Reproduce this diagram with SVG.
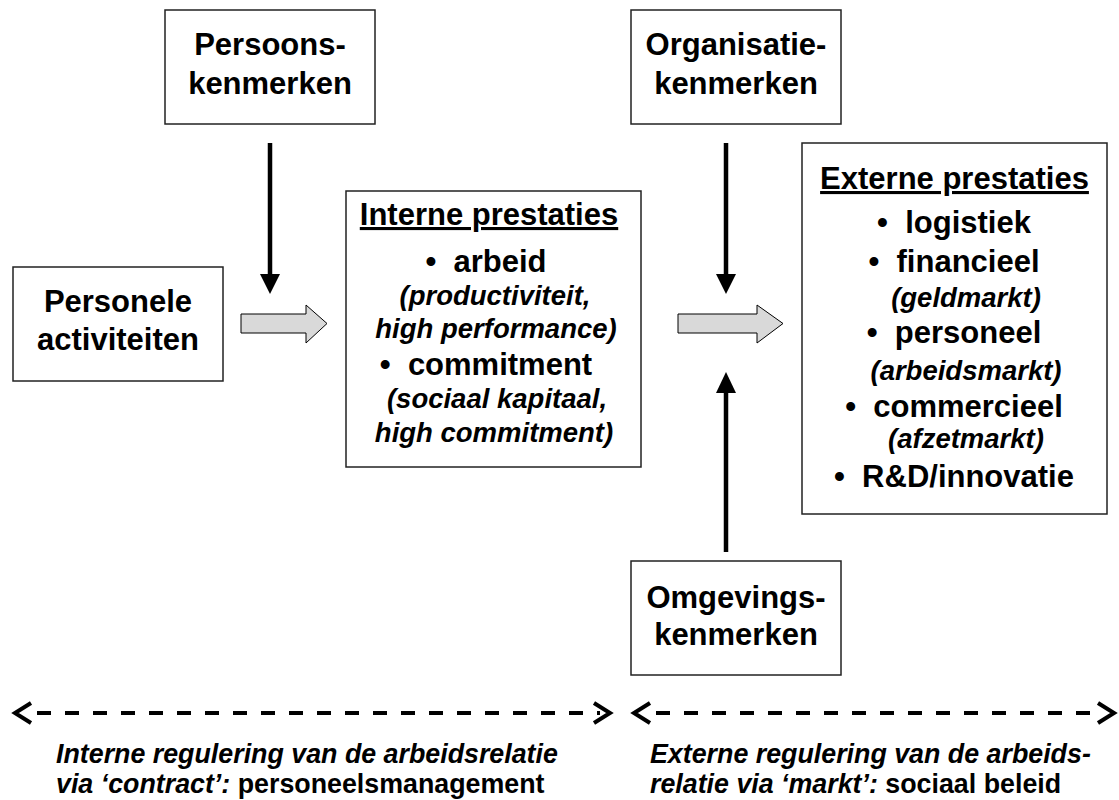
<svg xmlns="http://www.w3.org/2000/svg" width="1119" height="800" viewBox="0 0 1119 800">
<style>
  text { font-family: "Liberation Sans", Arial, sans-serif; fill: #000; }
  .b { font-size: 31px; font-weight: bold; text-anchor: middle; }
  .i { font-size: 27.5px; font-weight: bold; font-style: italic; text-anchor: middle; }
  .u { text-decoration: underline; }
  .box { fill: #fff; stroke: #222; stroke-width: 1.5; }
  .ln { stroke: #000; stroke-width: 4.5; fill: none; }
  .head { fill: #000; }
  .grey { fill: #d9d9d9; stroke: #000; stroke-width: 1; }
  .dash { stroke: #000; stroke-width: 4; stroke-dasharray: 14 14; fill: none; }
  .chev { stroke: #000; stroke-width: 4; fill: none; stroke-linejoin: miter; }
  .note { font-size: 26.8px; font-weight: bold; }
  .it { font-style: italic; }
</style>
<rect width="1119" height="800" fill="#fff"/>

<g id="connectors">
  <line class="ln" x1="270" y1="143" x2="270" y2="276"/>
  <polygon class="head" points="260,274 280,274 270,294"/>
  <line class="ln" x1="726" y1="143" x2="726" y2="276"/>
  <polygon class="head" points="716,274 736,274 726,294"/>
  <line class="ln" x1="726" y1="552" x2="726" y2="390"/>
  <polygon class="head" points="716,393 736,393 726,372"/>
  <polygon class="grey" points="241,314 306,314 306,305 327,323.5 306,343 306,333 241,333"/>
  <polygon class="grey" points="678,314 757,314 757,305 783,323.5 757,343 757,333 678,333"/>
  <line class="dash" x1="37" y1="713" x2="600" y2="713"/>
  <polyline class="chev" points="31,703 15,713 31,723"/>
  <polyline class="chev" points="594,703 610,713 594,723"/>
  <line class="dash" x1="656" y1="713" x2="1104" y2="713"/>
  <polyline class="chev" points="650,703 634,713 650,723"/>
  <polyline class="chev" points="1098,703 1114,713 1098,723"/>
</g>

<g id="persoonskenmerken">
  <rect class="box" x="165" y="10" width="210" height="114"/>
  <text class="b" x="270" y="55">Persoons-</text>
  <text class="b" x="270" y="94">kenmerken</text>
</g>

<g id="organisatiekenmerken">
  <rect class="box" x="631" y="10" width="210" height="114"/>
  <text class="b" x="736" y="55">Organisatie-</text>
  <text class="b" x="736" y="94">kenmerken</text>
</g>

<g id="personele-activiteiten">
  <rect class="box" x="13" y="267" width="210" height="114"/>
  <text class="b" x="118" y="312">Personele</text>
  <text class="b" x="118" y="350">activiteiten</text>
</g>

<g id="interne-prestaties">
  <rect class="box" x="346" y="191" width="295" height="276"/>
  <text class="b u" x="489" y="225">Interne prestaties</text>
  <text class="b" x="486" y="272">•&#160; arbeid</text>
  <text class="i" x="495" y="305">(productiviteit,</text>
  <text class="i" x="496" y="338">high performance)</text>
  <text class="b" x="486" y="375">•&#160; commitment</text>
  <text class="i" x="497" y="408">(sociaal kapitaal,</text>
  <text class="i" x="494" y="442">high commitment)</text>
</g>

<g id="externe-prestaties">
  <rect class="box" x="802" y="143" width="305" height="371"/>
  <text class="b u" x="954.5" y="189">Externe prestaties</text>
  <text class="b" x="954" y="233">•&#160; logistiek</text>
  <text class="b" x="954" y="272">•&#160; financieel</text>
  <text class="i" x="966" y="307">(geldmarkt)</text>
  <text class="b" x="954" y="343">•&#160; personeel</text>
  <text class="i" x="966" y="380">(arbeidsmarkt)</text>
  <text class="b" x="954" y="417">•&#160; commercieel</text>
  <text class="i" x="966" y="448">(afzetmarkt)</text>
  <text class="b" x="954" y="487">•&#160; R&amp;D/innovatie</text>
</g>

<g id="omgevingskenmerken">
  <rect class="box" x="631" y="561" width="210" height="114"/>
  <text class="b" x="736" y="608">Omgevings-</text>
  <text class="b" x="736" y="645">kenmerken</text>
</g>

<g id="interne-regulering">
  <text class="note" x="56" y="763"><tspan class="it">Interne regulering van de arbeidsrelatie</tspan></text>
  <text class="note" x="56" y="793"><tspan class="it">via ‘contract’:</tspan> personeelsmanagement</text>
</g>

<g id="externe-regulering">
  <text class="note" x="650" y="763"><tspan class="it">Externe regulering van de arbeids-</tspan></text>
  <text class="note" x="650" y="793"><tspan class="it">relatie via ‘markt’:</tspan> sociaal beleid</text>
</g>
</svg>
